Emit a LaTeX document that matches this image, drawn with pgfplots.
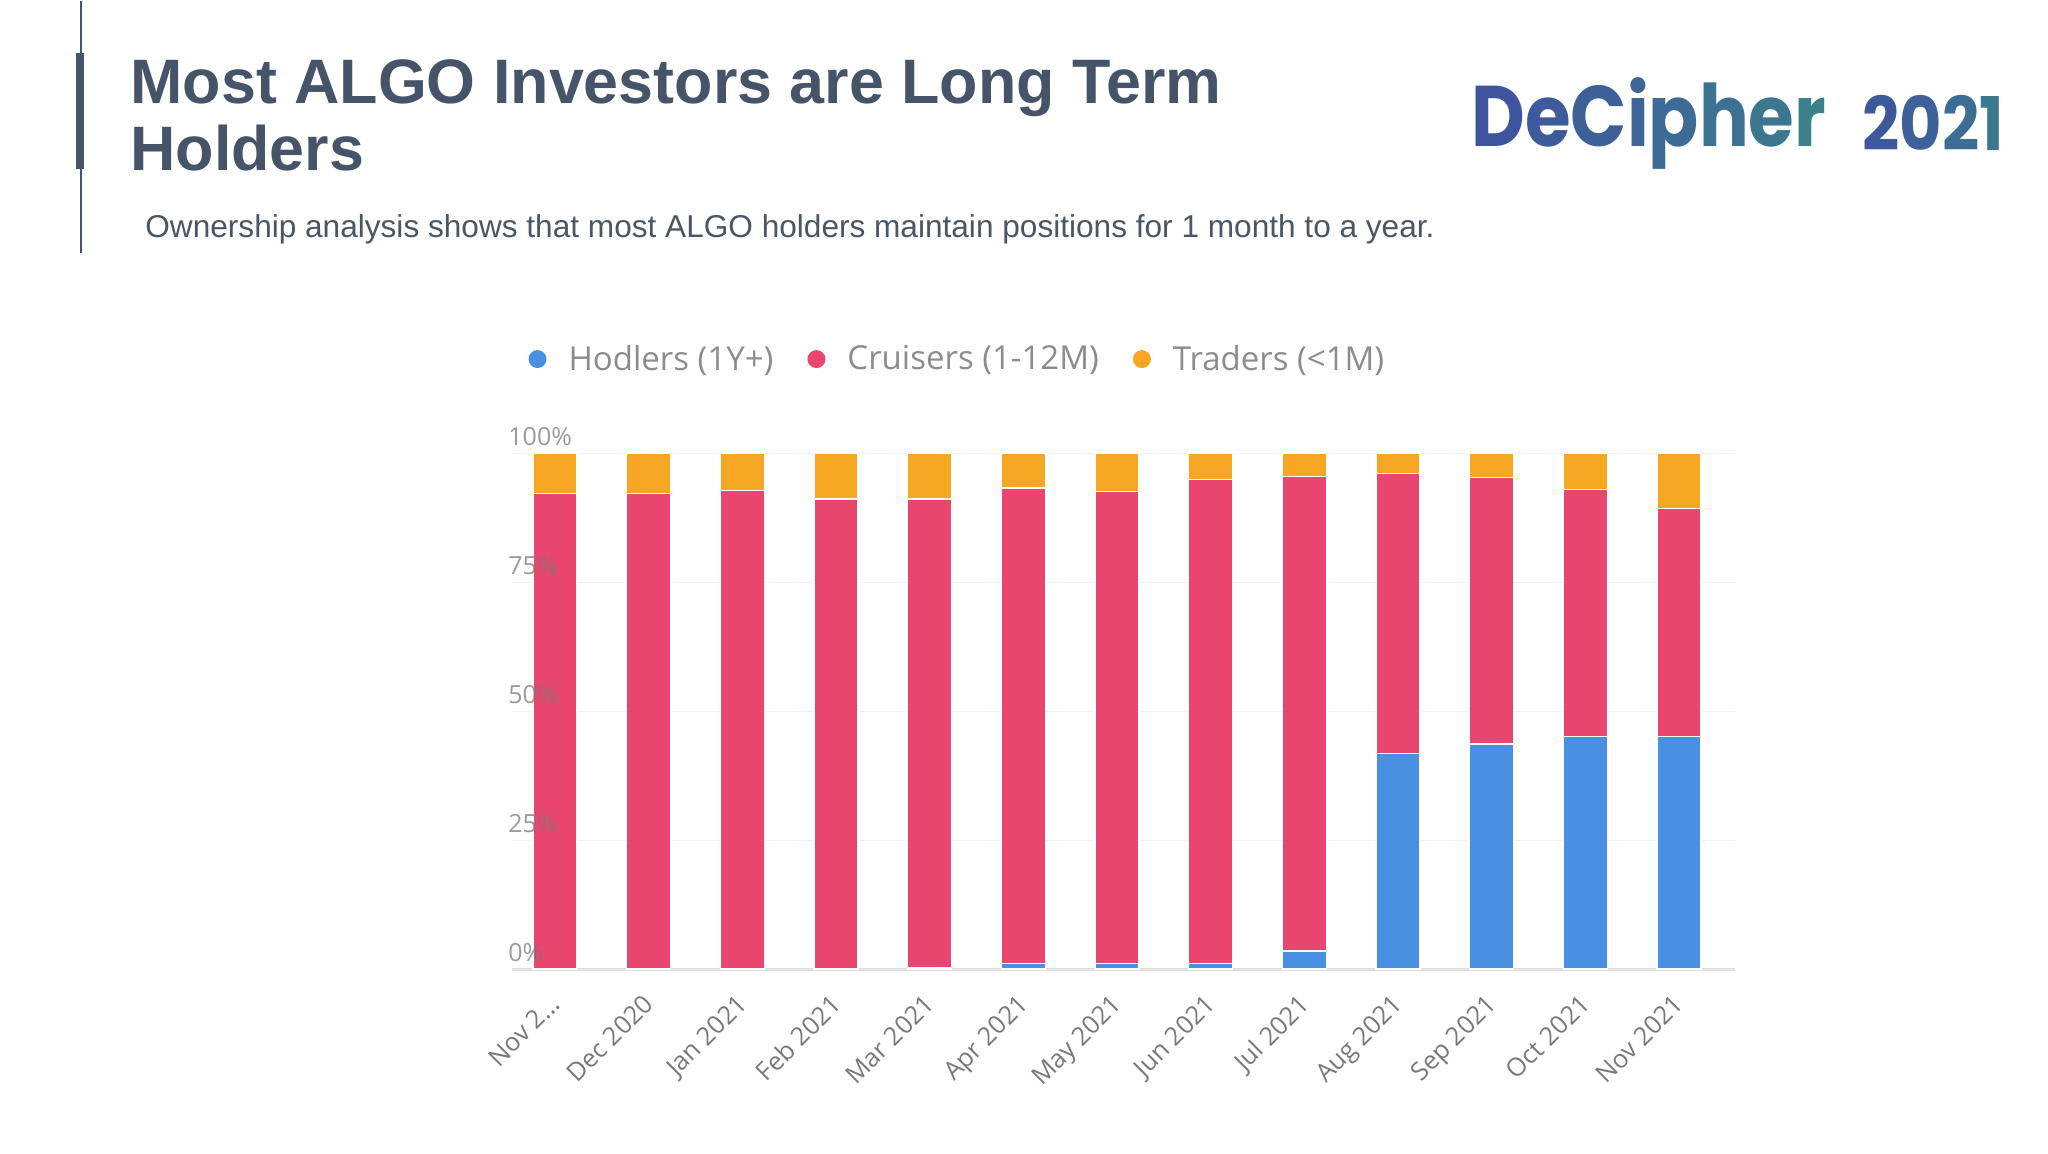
\documentclass[border=0pt]{standalone}
\usepackage{fontspec}
\setmainfont{Liberation Sans}
\newfontfamily\opensans{Open Sans}
\newfontfamily\logofont{Poppins}
\usepackage{pgfplots}
\usepackage{pgfplotstable}
\pgfplotsset{compat=1.18}

\definecolor{hodl}{RGB}{74,144,226}
\definecolor{cruise}{RGB}{233,70,111}
\definecolor{trade}{RGB}{245,166,35}
\definecolor{titlec}{RGB}{69,84,104}
\definecolor{subc}{RGB}{75,85,100}
\definecolor{lbl}{RGB}{120,120,120}
\definecolor{logoL}{RGB}{62,84,158}
\definecolor{logoR}{RGB}{60,128,140}

% tick labels drawn over the bars, as in the source chart
\pgfplotsset{
  layers/labelsontop/.define layer set={
    axis background,axis grid,axis ticks,axis lines,pre main,main,
    axis tick labels,axis descriptions,axis foreground}{/pgfplots/layers/standard},
}

% share of holders by holding period, percent
\pgfplotstableread{
x  H    C    T
0  0    92.1 7.9
1  0    92.1 7.9
2  0    92.8 7.2
3  0    91.1 8.9
4  0.2  90.9 8.9
5  1.0  92.2 6.8
6  1.0  91.6 7.4
7  1.0  93.8 5.2
8  3.5  92.0 4.5
9  41.7 54.4 3.9
10 43.6 51.6 4.8
11 45.0 48.0 7.0
12 45.0 44.3 10.7
}\algo

\begin{document}
\begin{tikzpicture}
\path (0pt,0pt) rectangle (1024pt,576pt);

% header decoration
\draw[titlec, line width=1pt] (40.5pt,576pt) -- (40.5pt,450pt);
\fill[titlec] (38pt,492pt) rectangle (42pt,550pt);

\node[anchor=base west, inner sep=0, text=titlec,
  font=\bfseries\fontsize{31.4}{36}\selectfont] at (65pt,524.8pt) {Most ALGO Investors are Long Term};
\node[anchor=base west, inner sep=0, text=titlec,
  font=\bfseries\fontsize{31.4}{36}\selectfont] at (65pt,491.3pt) {Holders};
\node[anchor=base west, inner sep=0, text=subc,
  font=\fontsize{15.8}{18}\selectfont] at (72.5pt,457.5pt)
  {Ownership analysis shows that most ALGO holders maintain positions for 1 month to a year.};

% logo
\node[anchor=base west, inner sep=0, font=\logofont\bfseries\fontsize{43}{50}\selectfont] at (735.5pt,503pt)
  {\scalebox{0.86}[1]{\textcolor{logoL}{D}\textcolor{logoL!86!logoR}{e}\textcolor{logoL!72!logoR}{C}\textcolor{logoL!60!logoR}{i}\textcolor{logoL!48!logoR}{p}\textcolor{logoL!34!logoR}{h}\textcolor{logoL!20!logoR}{e}\textcolor{logoR}{r}}};
\node[anchor=base west, inner sep=0, font=\logofont\bfseries\fontsize{37}{42}\selectfont] at (931pt,501pt)
  {\scalebox{0.88}[1]{\textcolor{logoL!90!logoR}{2}\textcolor{logoL!70!logoR}{0}\textcolor{logoL!45!logoR}{2}\textcolor{logoL!20!logoR}{1}}};

\begin{axis}[
  at={(256pt,92pt)}, anchor=south west,
  scale only axis, width=611.5pt, height=258pt,
  ybar stacked, bar width=22pt,
  xmin=-0.459, xmax=12.598, ymin=0, ymax=100,
  enlargelimits=false,
  set layers=labelsontop,
  axis x line*=bottom, axis y line*=left,
  y axis line style={draw=none},
  x axis line style={-, draw=black!12, line width=1.5pt},
  tick style={draw=none},
  ymajorgrids, grid style={black!5, line width=0.5pt},
  ytick={0,25,50,75,100},
  yticklabels={0\%,25\%,50\%,75\%,100\%},
  yticklabel style={anchor=south west, inner sep=0pt, yshift=3.5pt, xshift=-2pt,
    font=\opensans\fontsize{12.5}{14}\selectfont, text=lbl, text opacity=0.75},
  xtick={0,...,12},
  xticklabels={Nov 2…,Dec 2020,Jan 2021,Feb 2021,Mar 2021,Apr 2021,May 2021,Jun 2021,Jul 2021,Aug 2021,Sep 2021,Oct 2021,Nov 2021},
  xticklabel style={xshift=-3.4pt, yshift=-11.7pt, rotate=45, anchor=north east, inner sep=0pt,
    font=\opensans\fontsize{12.7}{15}\selectfont, text=lbl},
  legend columns=3,
  legend style={draw=none, fill=none, at={(0.365,1.182)}, anchor=center,
    font=\opensans\fontsize{16.5}{19}\selectfont, text=lbl!85,
    /tikz/every odd column/.append style={column sep=9pt},
    /tikz/every even column/.append style={column sep=15pt}},
  legend image code/.code={\fill[#1, draw=none] (4.5pt,0pt) circle (4.5pt);},
]
\addplot[fill=hodl, draw=white, line width=0.6pt] table[x=x, y=H] {\algo};
\addlegendentry{Hodlers (1Y+)}
\addplot[fill=cruise, draw=white, line width=0.6pt] table[x=x, y=C] {\algo};
\addlegendentry{Cruisers (1-12M)}
\addplot[fill=trade, draw=white, line width=0.6pt] table[x=x, y=T] {\algo};
\addlegendentry{Traders (<1M)}
\end{axis}
\end{tikzpicture}
\end{document}
